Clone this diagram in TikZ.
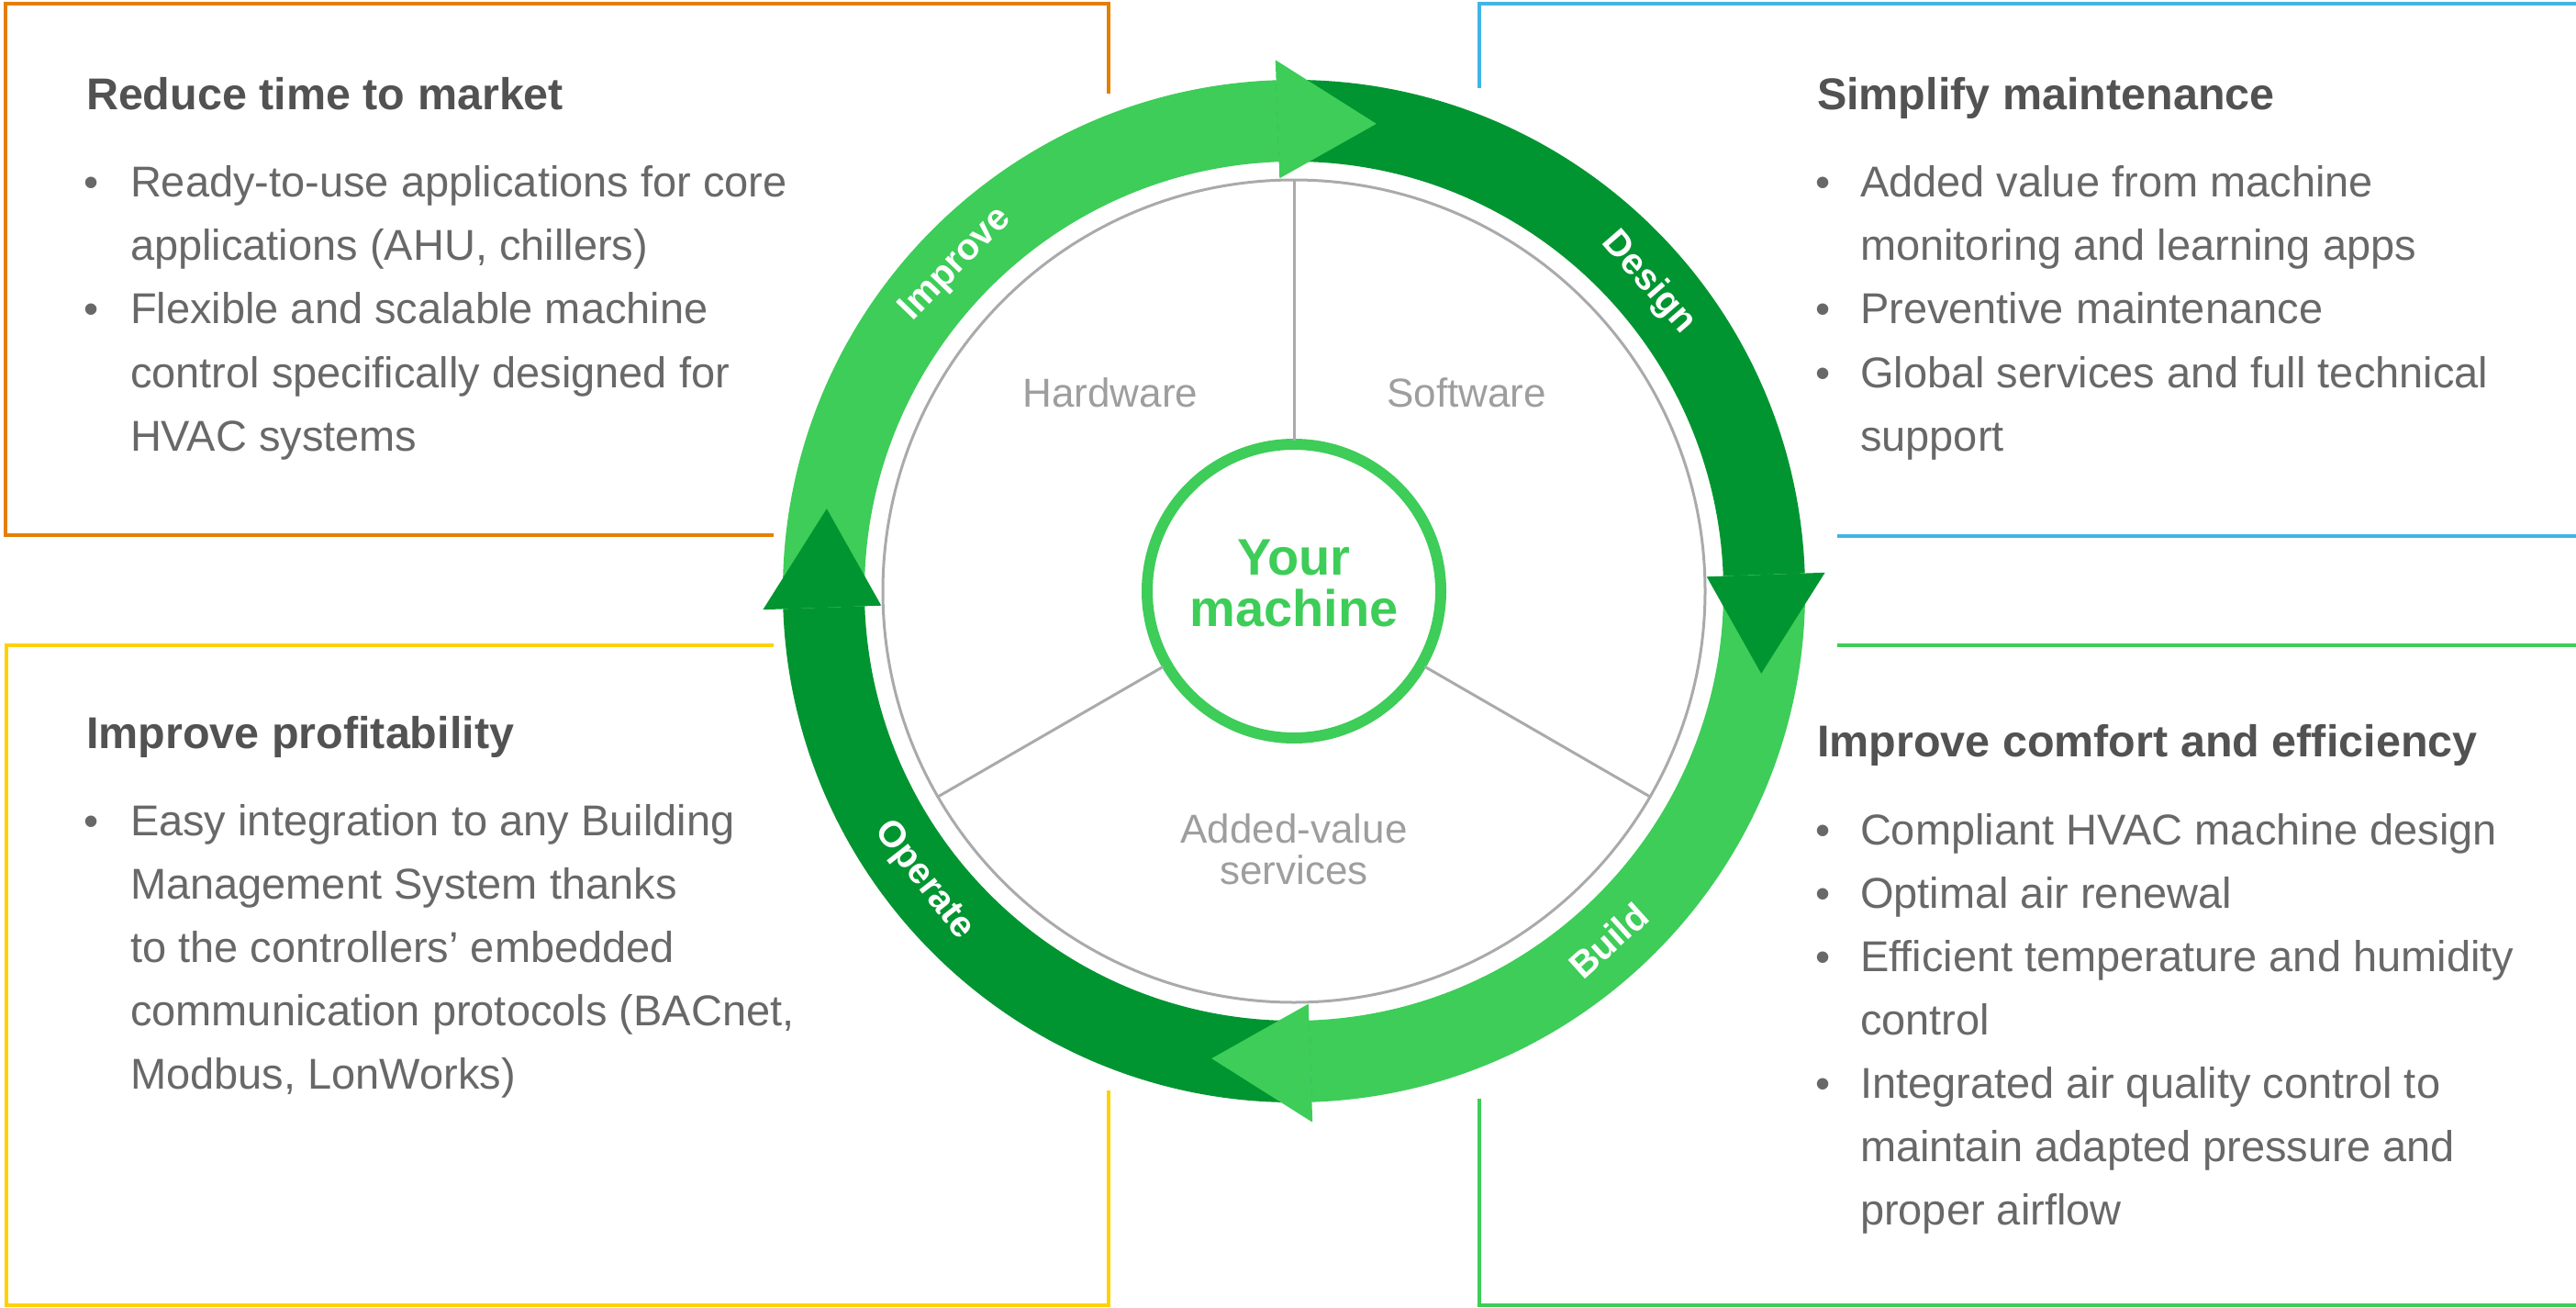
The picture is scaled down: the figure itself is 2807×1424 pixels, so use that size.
\documentclass[tikz,border=0pt]{standalone}
\usepackage{fontspec}
\setmainfont{Liberation Sans}
\usetikzlibrary{positioning}
\begin{document}
\begin{tikzpicture}[x=1pt,y=-1pt,line cap=rect,
    boxline/.style={line width=4pt},
    titletext/.style={inner sep=0, outer sep=0, text=custcol_title, anchor=base west, font=\fontsize{48.5pt}{48.5pt}\selectfont\bfseries},
    bodytext/.style={inner sep=0, outer sep=0, text=custcol_body, anchor=base west, font=\fontsize{47pt}{47pt}\selectfont},
    bulletdot/.style={inner sep=0, outer sep=0, text=custcol_body, anchor=base, font=\fontsize{46pt}{46pt}\selectfont},
    sectortext/.style={inner sep=0, outer sep=0, text=custcol_label, align=center, font=\fontsize{44pt}{45pt}\selectfont},
    cycletext/.style={inner sep=0, outer sep=0, text=white, font=\fontsize{40pt}{40pt}\selectfont\bfseries},
    machinetext/.style={inner sep=0, outer sep=0, text=custcol_light, align=center, font=\fontsize{56pt}{56pt}\selectfont\bfseries}]
						\definecolor{custcol_light}{RGB}{61, 205, 88}
						\definecolor{custcol_dark}{RGB}{0, 149, 48}
						\definecolor{custcol_orange}{RGB}{228, 127, 0}
						\definecolor{custcol_blue}{RGB}{66, 180, 230}
						\definecolor{custcol_yellow}{RGB}{255, 209, 0}
						\definecolor{custcol_title}{RGB}{82, 82, 82}
						\definecolor{custcol_body}{RGB}{104, 104, 104}
						\definecolor{custcol_label}{RGB}{158, 158, 158}
						\definecolor{custcol_wheel}{RGB}{170, 170, 170}
						\useasboundingbox (0,0) rectangle (2807,1424);
						% frames round the four corners
						\draw [boxline, custcol_orange] (841,583) -- (6,583) -- (6,4) -- (1208,4) -- (1208,100);
						\draw [boxline, custcol_blue] (1612,94) -- (1612,4) -- (2807,4);
						\draw [boxline, custcol_blue] (2004,584) -- (2807,584);
						\draw [boxline, custcol_yellow] (841,703) -- (7,703) -- (7,1422) -- (1208,1422) -- (1208,1190);
						\draw [boxline, custcol_light] (2004,703) -- (2807,703);
						\draw [boxline, custcol_light] (1612,1199) -- (1612,1422) -- (2807,1422);
						% the cycle
						\begin{scope}[shift={(1410,644)}, y=1pt]
						\foreach \from/\to/\col in {182/92/custcol_light, 92/2/custcol_dark, 2/-88/custcol_light, -88/-178/custcol_dark}
							\fill [\col] (\from:557) arc[start angle=\from, end angle=\to, radius=557] -- (\to:468) arc[start angle=\to, end angle=\from, radius=468] -- cycle;
						\foreach \base/\col in {92/custcol_light, 2/custcol_dark, -88/custcol_light, 182/custcol_dark}
							\fill [\col] (\base:579) -- (\base-12:517) -- (\base:450) -- cycle;
						\node[cycletext, rotate=46] (improve) at (136:512) {Improve};
						\node[cycletext, rotate=-49] (design) at (41:512) {Design};
						\node[cycletext, rotate=42] (build) at (-48:512) {Build};
						\node[cycletext, rotate=-52] (operate) at (218:512) {Operate};
						\node[draw=custcol_wheel, line width=3pt, circle, minimum size=896pt, inner sep=0, outer sep=0] (wheel) at (0,0) {};
						\node[draw=custcol_light, line width=12pt, circle, minimum size=320pt, inner sep=0, outer sep=0] (core) at (0,0) {};
						\foreach \ang in {90,210,330}
							\draw [custcol_wheel, line width=3pt, shorten <=6pt] (core.\ang) -- (wheel.\ang);
						\end{scope}
						\node[machinetext] (yourmachine) at (1410,636) {Your\\machine};
						\node[sectortext, anchor=base] (hardware) at (1210,443) {Hardware};
						\node[sectortext, anchor=base] (software) at (1598,443) {Software};
						\node[sectortext] (services) at (1410,925) {Added-value\\services};
						% top left
						\node[titletext] (rtmTitle) at (94,119) {Reduce time to market};
						\node[bulletdot] (rtmDotA) at (100,214) {\textbullet};
						\node[bodytext] (rtmA) at (142,214) {Ready-to-use applications for core};
						\node[bodytext] (rtmB) at (142,283) {applications (AHU, chillers)};
						\node[bulletdot] (rtmDotC) at (100,352) {\textbullet};
						\node[bodytext] (rtmC) at (142,352) {Flexible and scalable machine};
						\node[bodytext] (rtmD) at (142,422) {control specifically designed for};
						\node[bodytext] (rtmE) at (142,491) {HVAC systems};
						% top right
						\node[titletext] (smTitle) at (1980,119) {Simplify maintenance};
						\node[bulletdot] (smDotA) at (1987,214) {\textbullet};
						\node[bodytext] (smA) at (2027,214) {Added value from machine};
						\node[bodytext] (smB) at (2027,283) {monitoring and learning apps};
						\node[bulletdot] (smDotC) at (1987,352) {\textbullet};
						\node[bodytext] (smC) at (2027,352) {Preventive maintenance};
						\node[bulletdot] (smDotD) at (1987,422) {\textbullet};
						\node[bodytext] (smD) at (2027,422) {Global services and full technical};
						\node[bodytext] (smE) at (2027,491) {support};
						% bottom left
						\node[titletext] (ipTitle) at (94,815) {Improve profitability};
						\node[bulletdot] (ipDotA) at (100,910) {\textbullet};
						\node[bodytext] (ipA) at (142,910) {Easy integration to any Building};
						\node[bodytext] (ipB) at (142,979) {Management System thanks};
						\node[bodytext] (ipC) at (142,1048) {to the controllers’ embedded};
						\node[bodytext] (ipD) at (142,1117) {communication protocols (BACnet,};
						\node[bodytext] (ipE) at (142,1186) {Modbus, LonWorks)};
						% bottom right
						\node[titletext] (iceTitle) at (1980,824) {Improve comfort and efficiency};
						\node[bulletdot] (iceDotA) at (1987,920) {\textbullet};
						\node[bodytext] (iceA) at (2027,920) {Compliant HVAC machine design};
						\node[bulletdot] (iceDotB) at (1987,989) {\textbullet};
						\node[bodytext] (iceB) at (2027,989) {Optimal air renewal};
						\node[bulletdot] (iceDotC) at (1987,1058) {\textbullet};
						\node[bodytext] (iceC) at (2027,1058) {Efficient temperature and humidity};
						\node[bodytext] (iceD) at (2027,1127) {control};
						\node[bulletdot] (iceDotE) at (1987,1196) {\textbullet};
						\node[bodytext] (iceE) at (2027,1196) {Integrated air quality control to};
						\node[bodytext] (iceF) at (2027,1265) {maintain adapted pressure and};
						\node[bodytext] (iceG) at (2027,1334) {proper airflow};
						\end{tikzpicture}
\end{document}
